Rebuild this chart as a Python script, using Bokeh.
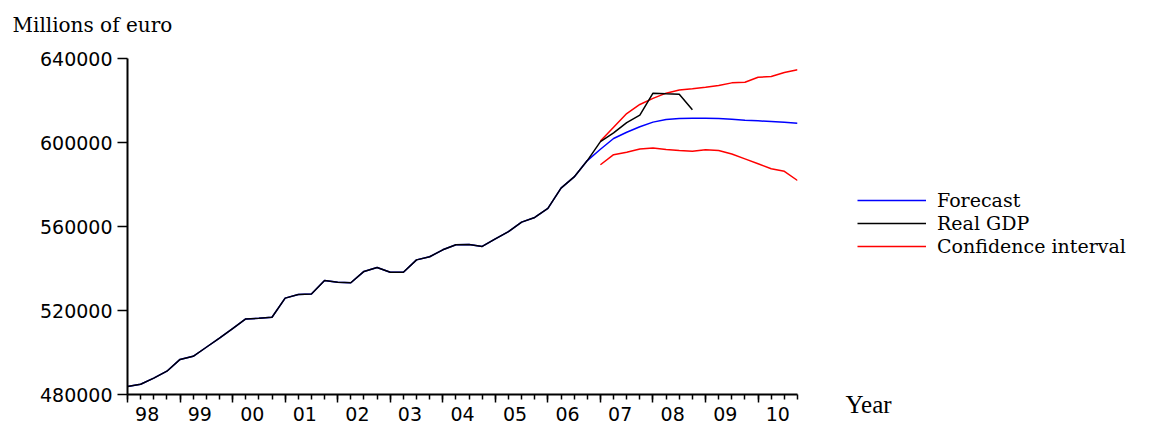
from bokeh.plotting import figure
from bokeh.layouts import row, column
from bokeh.models import (Range1d, FixedTicker, LinearAxis, Legend, LegendItem,
                          Label, PrintfTickFormatter)
from bokeh.embed import file_html
from bokeh.resources import INLINE

# ---------------- data ----------------
first_year = 1998
years = list(range(1998, 2011))
year_labels = ["98", "99", "00", "01", "02", "03", "04", "05", "06", "07", "08", "09", "10"]
y_ticks = [480000, 520000, 560000, 600000, 640000]

# Real GDP, quarterly 1998Q1 - 2008Q4 (millions of euro)
real_gdp = [483800, 484900, 487800, 491100, 496700, 498200, 502500, 506800,
            511400, 516000, 516300, 516800, 525900, 527600, 527900, 534300,
            533500, 533200, 538600, 540500, 538200, 538200, 544100, 545600,
            548900, 551300, 551400, 550500, 554100, 557600, 562100, 564300,
            568600, 578300, 583600, 591400, 600400, 604600, 609500, 613000,
            623500, 623200, 623000, 615600]
# Forecast, 2006Q4 - 2010Q4
forecast_start = 35
forecast = [591400, 596800, 601900, 604900, 607500, 609700, 611000, 611400,
            611600, 611600, 611400, 611100, 610600, 610300, 610000, 609700, 609200]
# Confidence interval, 2007Q1 - 2010Q4
ci_start = 36
ci_upper = [600700, 607300, 613800, 618100, 621000, 623500, 625000, 625600,
            626300, 627100, 628400, 628700, 631100, 631400, 633300, 634600]
ci_lower = [589400, 594200, 595400, 596900, 597400, 596700, 596200, 595800,
            596500, 596200, 594500, 592200, 589900, 587500, 586300, 581900]

BLUE, BLACK, RED = "#0000ff", "#000000", "#ff0000"


def qx(start, n):
    return [first_year + (start + i) / 4 for i in range(n)]


gdp_x = qx(0, len(real_gdp))
fc_full = real_gdp[:forecast_start] + forecast
fc_x = qx(0, len(fc_full))
ci_x = qx(ci_start, len(ci_upper))
last_x = fc_x[-1]


def blank(width, height):
    f = figure(width=width, height=height, x_range=Range1d(0, 1), y_range=Range1d(0, 1),
               x_axis_type=None, y_axis_type=None, output_backend="svg",
               toolbar_location=None, min_border=0)
    f.grid.visible = False
    f.outline_line_color = None
    f.background_fill_color = "white"
    f.border_fill_color = "white"
    f.frame_align = False
    return f


# ---------------- header (unit label) ----------------
head = blank(1161, 36)
head.add_layout(Label(x=12, y=12, x_units="screen", y_units="screen",
                      text="Millions of euro", text_font="DejaVu Serif",
                      text_font_size="20px", text_color=BLACK,
                      text_baseline="alphabetic"))

# ---------------- main chart ----------------
p = figure(width=800, height=396,
           x_range=Range1d(first_year, last_x), y_range=Range1d(y_ticks[0], y_ticks[-1]),
           output_backend="svg", toolbar_location=None,
           min_border_left=127, min_border_right=3, min_border_top=22, min_border_bottom=38)
p.frame_align = False
p.grid.visible = False
p.outline_line_color = None
p.background_fill_color = "white"
p.border_fill_color = "white"

p.line(fc_x, fc_full, line_color=BLUE, line_width=1.5)
p.line(ci_x, ci_upper, line_color=RED, line_width=1.5)
p.line(ci_x, ci_lower, line_color=RED, line_width=1.5)
p.line(gdp_x, real_gdp, line_color=BLACK, line_width=1.5)

# y axis
ya = p.yaxis[0]
ya.ticker = FixedTicker(ticks=y_ticks, minor_ticks=[])
ya.formatter = PrintfTickFormatter(format="%d")
ya.axis_line_width = 2
ya.axis_line_color = BLACK
ya.major_tick_out = 10
ya.major_tick_in = 0
ya.major_tick_line_width = 1.5
ya.major_label_standoff = 5
ya.major_label_text_font = "DejaVu Sans"
ya.major_label_text_font_size = "19px"
ya.major_label_text_color = BLACK

# x axis: tick marks (years major, quarters minor)
xa = p.xaxis[0]
quarters = [first_year + i / 4 for i in range(len(fc_full))]
xa.ticker = FixedTicker(ticks=years, minor_ticks=quarters)
xa.axis_line_width = 2
xa.axis_line_color = BLACK
xa.major_tick_out = 8
xa.major_tick_in = 0
xa.minor_tick_out = 5
xa.minor_tick_in = 0
xa.major_tick_line_width = 1.5
xa.minor_tick_line_width = 1.5
xa.major_label_overrides = {y: "" for y in years}
xa.major_label_text_font_size = "1px"
xa.major_label_standoff = 0

# x axis labels centred on each year's quarters
label_pos = [y + 0.375 for y in years]
xl = LinearAxis(ticker=FixedTicker(ticks=label_pos, minor_ticks=[]),
                major_label_overrides={pos: lab for pos, lab in zip(label_pos, year_labels)})
xl.axis_line_color = None
xl.major_tick_line_color = None
xl.minor_tick_line_color = None
xl.major_tick_out = 0
xl.major_tick_in = 0
xl.major_label_standoff = 4
xl.major_label_text_font = "DejaVu Sans"
xl.major_label_text_font_size = "19px"
xl.major_label_text_color = BLACK
p.add_layout(xl, "below")

# ---------------- legend panel ----------------
q = blank(361, 396)
# legend keys share the series' styles; their data lie outside this panel's ranges
k_fc = q.line(fc_x, fc_full, line_color=BLUE, line_width=1.5)
k_gdp = q.line(gdp_x, real_gdp, line_color=BLACK, line_width=1.5)
k_ci = q.line(ci_x, ci_upper, line_color=RED, line_width=1.5)

legend = Legend(items=[LegendItem(label="Forecast", renderers=[k_fc]),
                       LegendItem(label="Real GDP", renderers=[k_gdp]),
                       LegendItem(label="Confidence interval", renderers=[k_ci])],
                location=(57, 175), border_line_color=None, background_fill_alpha=0,
                padding=0, margin=0, glyph_width=69, glyph_height=20, label_height=20,
                spacing=1, label_standoff=11, label_text_font="DejaVu Serif",
                label_text_font_size="19px", label_text_color=BLACK)
q.add_layout(legend)

q.add_layout(Label(x=45, y=28, x_units="screen", y_units="screen",
                   text="Year", text_font="Liberation Serif",
                   text_font_size="25px", text_color=BLACK,
                   text_baseline="alphabetic"))

layout = column(head, row(p, q))
open("out.html", "w").write(file_html(layout, INLINE))
